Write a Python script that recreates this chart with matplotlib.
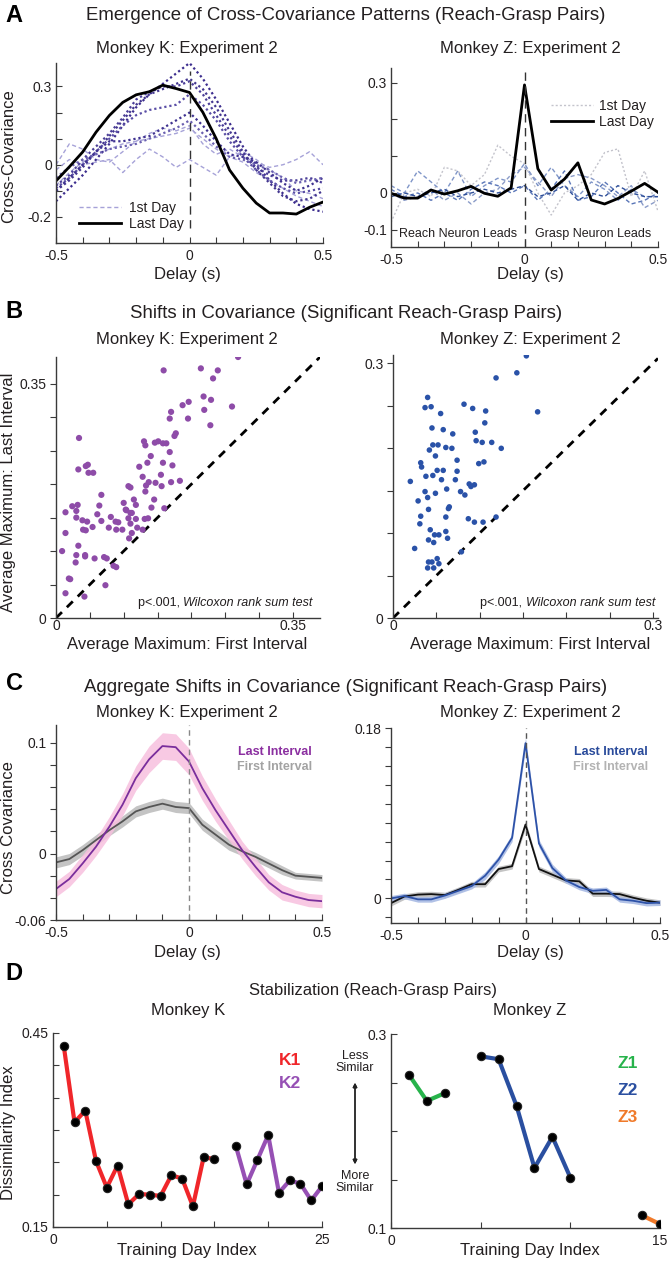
import numpy as np
import matplotlib.pyplot as plt

plt.rcParams['font.family'] = ['Liberation Sans', 'DejaVu Sans']
plt.rcParams['text.color'] = '#231f20'

# ---- data ----
delay = [-0.5, -0.45, -0.4, -0.35, -0.3, -0.25, -0.2, -0.15, -0.1, -0.05, 0.0,
         0.05, 0.1, 0.15, 0.2, 0.25, 0.3, 0.35, 0.4, 0.45, 0.5]

# A, monkey K: last day (black) and intermediate days (dotted)
k_last_day = [-0.062, -0.008, 0.049, 0.125, 0.189, 0.239, 0.268, 0.280, 0.305, 0.292, 0.277,
              0.201, 0.100, -0.020, -0.090, -0.147, -0.185, -0.185, -0.189, -0.163, -0.143]
k_days = [
    [-0.14, -0.09, -0.04, 0.02, 0.08, 0.15, 0.22, 0.27, 0.31, 0.35, 0.39, 0.33, 0.25, 0.16, 0.07, 0.0, -0.06, -0.11, -0.15, -0.17, -0.18],
    [-0.10, -0.06, -0.01, 0.05, 0.11, 0.17, 0.23, 0.27, 0.29, 0.31, 0.33, 0.29, 0.22, 0.13, 0.05, -0.02, -0.07, -0.12, -0.14, -0.13, -0.10],
    [-0.08, -0.04, 0.02, 0.07, 0.12, 0.18, 0.25, 0.28, 0.30, 0.30, 0.32, 0.27, 0.19, 0.11, 0.04, -0.01, -0.04, -0.06, -0.06, -0.05, -0.07],
    [-0.09, -0.05, 0.0, 0.05, 0.10, 0.15, 0.19, 0.21, 0.22, 0.23, 0.27, 0.23, 0.17, 0.09, 0.03, -0.02, -0.06, -0.09, -0.11, -0.10, -0.09],
    [-0.10, -0.05, 0.0, 0.05, 0.09, 0.09, 0.10, 0.11, 0.14, 0.17, 0.20, 0.15, 0.09, 0.04, 0.03, 0.01, -0.03, -0.07, -0.10, -0.08, -0.05],
    [-0.05, -0.01, 0.02, 0.04, 0.06, 0.07, 0.08, 0.10, 0.12, 0.14, 0.17, 0.12, 0.07, 0.03, 0.02, 0.0, -0.02, -0.05, -0.07, -0.06, -0.05],
]
k_first_days = [
    [0.0, 0.08, 0.06, 0.02, 0.01, 0.05, 0.09, 0.12, 0.14, 0.13, 0.15, 0.08, 0.04, 0.06, 0.03, 0.01, -0.01, 0.0, 0.02, 0.05, 0.0],
    [-0.02, 0.02, 0.0, 0.01, 0.02, -0.03, 0.02, 0.06, 0.03, -0.01, 0.02, -0.01, -0.04, 0.03, 0.05, 0.02, -0.02, -0.05, -0.10, -0.11, -0.13],
    [-0.08, -0.03, 0.01, 0.04, 0.06, 0.08, 0.09, 0.10, 0.11, 0.12, 0.14, 0.10, 0.06, 0.03, 0.01, -0.03, -0.06, -0.09, -0.12, -0.14, -0.16],
]

# A, monkey Z
z_last_day = [-0.001, -0.014, -0.014, 0.008, -0.003, 0.006, 0.018, -0.001, -0.009, 0.014, 0.294,
              0.066, 0.008, 0.038, 0.082, -0.019, -0.030, -0.015, 0.005, 0.026, 0.002]
z_first_day = [-0.08, 0.0, 0.01, -0.01, 0.07, 0.06, 0.02, 0.05, 0.13, 0.10, 0.08,
               0.0, -0.06, 0.0, 0.02, 0.05, 0.11, 0.12, -0.01, 0.06, -0.05]
z_days = [
    [0.02, 0.0, 0.06, 0.03, 0.0, 0.06, -0.01, 0.02, 0.04, 0.03, 0.08, 0.02, 0.07, 0.02, -0.01, 0.03, 0.01, -0.02, 0.01, -0.01, -0.01],
    [0.01, -0.01, 0.0, -0.02, 0.0, -0.02, 0.01, 0.03, 0.02, 0.0, 0.02, -0.02, 0.01, 0.06, -0.02, -0.01, 0.03, 0.0, -0.03, -0.02, 0.0],
    [0.0, -0.02, -0.01, 0.01, -0.02, 0.0, -0.03, 0.0, 0.01, 0.05, 0.07, 0.03, -0.01, 0.04, 0.05, 0.04, 0.02, -0.01, 0.02, -0.04, -0.02],
    [-0.01, 0.0, -0.01, 0.0, 0.01, -0.01, 0.0, 0.01, 0.0, 0.01, 0.02, -0.01, 0.0, 0.02, -0.02, 0.0, -0.01, 0.02, 0.0, -0.01, -0.01],
]

# B, average maximum first vs last interval
k_first_max = [0.269, 0.159, 0.214, 0.239, 0.232, 0.196, 0.187, 0.218, 0.229, 0.260, 0.219, 0.170, 0.168, 0.195,
               0.228, 0.177, 0.175, 0.034, 0.130, 0.132, 0.146, 0.151, 0.158, 0.163, 0.168, 0.140, 0.158, 0.135,
               0.123, 0.172, 0.047, 0.044, 0.033, 0.048, 0.055, 0.155, 0.128, 0.137, 0.133, 0.147, 0.183, 0.170,
               0.156, 0.107, 0.110, 0.132, 0.067, 0.145, 0.115, 0.118, 0.100, 0.024, 0.064, 0.032, 0.160, 0.141,
               0.103, 0.112, 0.014, 0.030, 0.061, 0.081, 0.107, 0.118, 0.131, 0.136, 0.030, 0.039, 0.046, 0.067,
               0.088, 0.092, 0.110, 0.054, 0.078, 0.120, 0.128, 0.040, 0.044, 0.089, 0.098, 0.112, 0.014, 0.108,
               0.033, 0.009, 0.030, 0.043, 0.043, 0.057, 0.071, 0.075, 0.029, 0.085, 0.089, 0.019, 0.021, 0.073,
               0.014, 0.042, 0.110, 0.104]
k_last_max = [0.390, 0.370, 0.373, 0.370, 0.358, 0.323, 0.318, 0.331, 0.326, 0.316, 0.311, 0.308, 0.298, 0.298,
              0.288, 0.276, 0.272, 0.269, 0.264, 0.258, 0.262, 0.264, 0.261, 0.261, 0.248, 0.242, 0.232, 0.232,
              0.226, 0.228, 0.229, 0.227, 0.222, 0.217, 0.217, 0.214, 0.211, 0.203, 0.198, 0.202, 0.205, 0.203,
              0.197, 0.197, 0.195, 0.189, 0.184, 0.177, 0.177, 0.169, 0.172, 0.167, 0.168, 0.169, 0.164, 0.165,
              0.162, 0.157, 0.158, 0.160, 0.155, 0.151, 0.149, 0.148, 0.148, 0.149, 0.150, 0.146, 0.144, 0.145,
              0.144, 0.143, 0.141, 0.136, 0.135, 0.135, 0.132, 0.132, 0.131, 0.132, 0.132, 0.127, 0.127, 0.119,
              0.108, 0.100, 0.094, 0.092, 0.094, 0.089, 0.091, 0.089, 0.083, 0.078, 0.076, 0.059, 0.058, 0.049,
              0.037, 0.032, 0.157, 0.161]
z_first_max = [0.154, 0.143, 0.119, 0.167, 0.040, 0.037, 0.044, 0.082, 0.092, 0.107, 0.055, 0.106, 0.045, 0.058,
               0.095, 0.069, 0.096, 0.103, 0.114, 0.125, 0.046, 0.052, 0.042, 0.061, 0.068, 0.049, 0.032, 0.033,
               0.099, 0.105, 0.074, 0.051, 0.058, 0.074, 0.038, 0.046, 0.020, 0.056, 0.072, 0.088, 0.094, 0.090,
               0.037, 0.049, 0.062, 0.078, 0.083, 0.040, 0.029, 0.065, 0.064, 0.041, 0.032, 0.061, 0.087, 0.094,
               0.104, 0.119, 0.031, 0.043, 0.061, 0.048, 0.053, 0.063, 0.041, 0.047, 0.025, 0.079, 0.051, 0.041,
               0.045, 0.040, 0.047, 0.053]
z_last_max = [0.309, 0.289, 0.283, 0.243, 0.260, 0.248, 0.249, 0.252, 0.247, 0.244, 0.241, 0.230, 0.224, 0.222,
              0.219, 0.217, 0.209, 0.207, 0.207, 0.200, 0.204, 0.204, 0.198, 0.201, 0.200, 0.191, 0.183, 0.178,
              0.182, 0.184, 0.186, 0.174, 0.174, 0.173, 0.167, 0.168, 0.161, 0.163, 0.163, 0.158, 0.157, 0.155,
              0.149, 0.147, 0.152, 0.149, 0.145, 0.142, 0.138, 0.131, 0.129, 0.128, 0.120, 0.119, 0.117, 0.113,
              0.113, 0.119, 0.111, 0.104, 0.102, 0.098, 0.098, 0.094, 0.092, 0.089, 0.082, 0.078, 0.070, 0.066,
              0.066, 0.059, 0.059, 0.064]

# C, aggregate cross covariance (mean and s.e.m.)
k_agg_last = [-0.032, -0.023, -0.009, 0.006, 0.024, 0.044, 0.068, 0.085, 0.097, 0.096, 0.083,
              0.059, 0.039, 0.021, 0.003, -0.012, -0.026, -0.035, -0.039, -0.042, -0.043]
k_agg_last_sem = [0.007, 0.007, 0.008, 0.008, 0.009, 0.010, 0.011, 0.012, 0.012, 0.012, 0.012,
                  0.011, 0.010, 0.009, 0.008, 0.008, 0.007, 0.007, 0.006, 0.006, 0.006]
k_agg_first = [-0.008, -0.005, 0.003, 0.012, 0.021, 0.029, 0.038, 0.042, 0.045, 0.042, 0.041,
               0.026, 0.017, 0.008, 0.002, -0.003, -0.009, -0.015, -0.020, -0.021, -0.022]
k_agg_first_sem = [0.005, 0.005, 0.005, 0.005, 0.005, 0.005, 0.005, 0.005, 0.005, 0.005, 0.005,
                   0.005, 0.005, 0.005, 0.004, 0.004, 0.004, 0.004, 0.003, 0.003, 0.003]
z_agg_last = [0.0, 0.0025, -0.001, -0.001, 0.003, 0.008, 0.013, 0.024, 0.041, 0.064, 0.164,
              0.058, 0.032, 0.019, 0.012, 0.008, 0.009, -0.001, -0.0025, -0.005, -0.0045]
z_agg_last_sem = [0.003, 0.003, 0.003, 0.003, 0.003, 0.003, 0.003, 0.004, 0.004, 0.004, 0.006,
                  0.004, 0.004, 0.003, 0.003, 0.003, 0.003, 0.003, 0.003, 0.003, 0.003]
z_agg_first = [-0.005, 0.002, 0.004, 0.0045, 0.0035, 0.009, 0.015, 0.015, 0.031, 0.034, 0.078,
               0.031, 0.025, 0.019, 0.018, 0.005, 0.005, 0.0045, 0.0007, -0.0025, -0.0045]
z_agg_first_sem = [0.003, 0.003, 0.003, 0.003, 0.003, 0.003, 0.003, 0.003, 0.003, 0.003, 0.004,
                   0.003, 0.003, 0.003, 0.003, 0.003, 0.003, 0.003, 0.003, 0.003, 0.003]

# D, dissimilarity index per training day
k1_day = [1, 2, 3, 4, 5, 6, 7, 8, 9, 10, 11, 12, 13, 14, 15]
k1_val = [0.430, 0.312, 0.330, 0.252, 0.211, 0.245, 0.185, 0.201, 0.200, 0.198, 0.230, 0.225, 0.182, 0.258, 0.255]
k2_day = [17, 18, 19, 20, 21, 22, 23, 24, 25]
k2_val = [0.275, 0.216, 0.254, 0.292, 0.203, 0.222, 0.217, 0.191, 0.213]
z1_day = [1, 2, 3]
z1_val = [0.258, 0.231, 0.239]
z2_day = [5, 6, 7, 8, 9, 10]
z2_val = [0.277, 0.274, 0.226, 0.162, 0.194, 0.152]
z3_day = [14, 15]
z3_val = [0.113, 0.104]

# ---- layout helpers (pixel boxes of the 671x1263 canvas) ----
W, H = 671, 1263
fig = plt.figure(figsize=(W / 100, H / 100), dpi=100)
TXT = '#231f20'
TICK_FS = 10
LAB_FS = 12
SUB_FS = 12
TITLE_FS = 13.4


def box(x0, y0, x1, y1):
    return [x0 / W, 1 - y1 / H, (x1 - x0) / W, (y1 - y0) / H]


def ftext(x, y, s, **kw):
    kw.setdefault('ha', 'center')
    kw.setdefault('va', 'center')
    kw.setdefault('color', TXT)
    return fig.text(x / W, 1 - y / H, s, **kw)


def style(ax, xdir='in', ydir='in'):
    for s in ['top', 'right']:
        ax.spines[s].set_visible(False)
    for s in ['left', 'bottom']:
        ax.spines[s].set_color('#3a3a3a')
        ax.spines[s].set_linewidth(1.0)
    ax.tick_params(axis='x', direction=xdir, length=4, width=0.8, labelsize=TICK_FS,
                   pad=4, colors='#3a3a3a', labelcolor=TXT)
    ax.tick_params(axis='y', direction=ydir, length=4, width=0.8, labelsize=TICK_FS,
                   pad=3, colors='#3a3a3a', labelcolor=TXT)
    ax.patch.set_alpha(0)


delay_ticks = [-0.5, -0.4, -0.3, -0.2, -0.1, 0, 0.1, 0.2, 0.3, 0.4, 0.5]
delay_labels = ['-0.5', '', '', '', '', '0', '', '', '', '', '0.5']

# ---- panel letters and titles ----
for letter, y in [('A', 15), ('B', 312), ('C', 683), ('D', 973)]:
    ftext(14, y, letter, fontsize=17, fontweight='bold', color='black')
ftext(346, 16, 'Emergence of Cross-Covariance Patterns (Reach-Grasp Pairs)', fontsize=TITLE_FS)
ftext(346, 313, 'Shifts in Covariance (Significant Reach-Grasp Pairs)', fontsize=TITLE_FS)
ftext(346, 688, 'Aggregate Shifts in Covariance (Significant Reach-Grasp Pairs)', fontsize=TITLE_FS)
ftext(373, 990, 'Stabilization (Reach-Grasp Pairs)', fontsize=12)
for y in [48, 340, 712]:
    ftext(187, y, 'Monkey K: Experiment 2', fontsize=SUB_FS)
    ftext(530, y, 'Monkey Z: Experiment 2', fontsize=SUB_FS)
ftext(188, 1010, 'Monkey K', fontsize=SUB_FS)
ftext(530, 1010, 'Monkey Z', fontsize=SUB_FS)

# ---- A left ----
ax = fig.add_axes(box(56, 63, 323, 243))
style(ax)
for vals in k_first_days:
    ax.plot(delay, vals, color='#a6a2d8', lw=1.0, ls=(0, (3, 2)))
dot_cols = ['#3c2d8e', '#43368f', '#4b3e98', '#5a4ea6', '#3f3290', '#6a60b0']
for vals, c in zip(k_days, dot_cols):
    ax.plot(delay, vals, color=c, lw=1.6, ls=(0, (1, 1.3)))
ax.plot(delay, k_last_day, color='black', lw=2.0)
ax.axvline(0, ymin=0.084, ymax=0.957, color='#333', lw=1.0, ls=(0, (6, 4)))
ax.plot([], [], color='#a6a2d8', lw=1.0, ls=(0, (3, 2)), label='1st Day')
ax.plot([], [], color='black', lw=2.0, label='Last Day')
h, l = ax.get_legend_handles_labels()
ax.legend(h[-2:], l[-2:], loc='lower left', bbox_to_anchor=(0.06, 0.03), frameon=False,
          fontsize=10, handlelength=3.0, handletextpad=0.6, labelspacing=0.15, borderpad=0)
ax.set_xlim(-0.5, 0.5)
ax.set_ylim(-0.3, 0.39)
ax.set_xticks(delay_ticks)
ax.set_xticklabels(delay_labels)
ax.set_yticks([-0.2, -0.1, 0, 0.1, 0.2, 0.3])
ax.set_yticklabels(['-0.2', '', '0', '', '', '0.3'])
ftext(187, 275, 'Delay (s)', fontsize=LAB_FS)
ftext(9, 156, 'Cross-Covariance', fontsize=LAB_FS, rotation=90)

# ---- A right ----
ax = fig.add_axes(box(391, 68, 658, 247))
style(ax)
ax.plot(delay, z_first_day, color='#c4c4cc', lw=1.0, ls=(0, (1.5, 1.5)))
for vals, c in zip(z_days, ['#7f95c8', '#5a76b8', '#8a9bc8', '#2f4f99']):
    ax.plot(delay, vals, color=c, lw=1.0, ls=(0, (3, 2)))
ax.plot(delay, z_last_day, color='black', lw=2.0)
ax.axvline(0, color='#333', lw=1.0, ls=(0, (6, 4)))
ax.plot([], [], color='#c4c4cc', lw=1.0, ls=(0, (1.5, 1.5)), label='1st Day')
ax.plot([], [], color='black', lw=2.0, label='Last Day')
h, l = ax.get_legend_handles_labels()
ax.legend(h[-2:], l[-2:], loc='upper left', bbox_to_anchor=(0.575, 0.865), frameon=False,
          fontsize=10, handlelength=3.0, handletextpad=0.45, labelspacing=0.15, borderpad=0)
ax.text(0.03, 0.04, 'Reach Neuron Leads', transform=ax.transAxes, fontsize=9, color=TXT,
        ha='left', va='bottom')
ax.text(0.54, 0.04, 'Grasp Neuron Leads', transform=ax.transAxes, fontsize=9, color=TXT,
        ha='left', va='bottom')
ax.set_xlim(-0.5, 0.5)
ax.set_ylim(-0.147, 0.34)
ax.set_xticks(delay_ticks)
ax.set_xticklabels(delay_labels)
ax.set_yticks([-0.1, 0, 0.1, 0.2, 0.3])
ax.set_yticklabels(['-0.1', '0', '', '', '0.3'])
ftext(530, 275, 'Delay (s)', fontsize=LAB_FS)


def pvalue(ax, x):
    t = ax.text(x, 0.057, 'Wilcoxon rank sum test', transform=ax.transAxes, fontsize=9,
                style='italic', ha='right', va='center', color=TXT)
    ax.annotate('p<.001, ', xy=(0, 0.5), xycoords=t, fontsize=9, ha='right', va='center',
                color=TXT)


# ---- B left ----
ax = fig.add_axes(box(56, 357, 320, 618))
style(ax, 'in', 'out')
ax.scatter(k_first_max, k_last_max, s=20, color='#8e4ca8', edgecolors='none', zorder=3)
ax.axline((0, 0), slope=1, color='black', lw=2.0, ls=(0, (3, 2.5)))
ax.set_xlim(0, 0.39)
ax.set_ylim(0, 0.39)
ax.set_xticks([0, 0.05, 0.1, 0.15, 0.2, 0.25, 0.3, 0.35])
ax.set_xticklabels(['0', '', '', '', '', '', '', '0.35'])
ax.set_yticks([0, 0.05, 0.1, 0.15, 0.2, 0.25, 0.3, 0.35])
ax.set_yticklabels(['0', '', '', '', '', '', '', '0.35'])
ax.tick_params(axis='x', pad=1)
pvalue(ax, 0.973)
ftext(187, 645, 'Average Maximum: First Interval', fontsize=LAB_FS)
ftext(9, 492, 'Average Maximum: Last Interval', fontsize=LAB_FS, rotation=90)

# ---- B right ----
ax = fig.add_axes(box(393, 355, 658, 618))
style(ax, 'in', 'out')
ax.scatter(z_first_max, z_last_max, s=16, color='#2a52a8', edgecolors='none', zorder=3)
ax.axline((0, 0), slope=1, color='black', lw=2.0, ls=(0, (3, 2.5)))
ax.set_xlim(0, 0.306)
ax.set_ylim(0, 0.31)
ax.set_xticks([0, 0.05, 0.1, 0.15, 0.2, 0.25, 0.3])
ax.set_xticklabels(['0', '', '', '', '', '', '0.3'])
ax.set_yticks([0, 0.05, 0.1, 0.15, 0.2, 0.25, 0.3])
ax.set_yticklabels(['0', '', '', '', '', '', '0.3'])
ax.tick_params(axis='x', pad=1)
pvalue(ax, 0.989)
ftext(530, 645, 'Average Maximum: First Interval', fontsize=LAB_FS)

# ---- C left ----
ax = fig.add_axes(box(56, 725, 322, 920))
style(ax, 'in', 'out')
lo = np.array(k_agg_first) - np.array(k_agg_first_sem)
hi = np.array(k_agg_first) + np.array(k_agg_first_sem)
ax.fill_between(delay, lo, hi, color='#c4c4c4', lw=0)
ax.plot(delay, k_agg_first, color='#555555', lw=1.3)
lo = np.array(k_agg_last) - np.array(k_agg_last_sem)
hi = np.array(k_agg_last) + np.array(k_agg_last_sem)
ax.fill_between(delay, lo, hi, color='#f7c0de', alpha=0.85, lw=0)
ax.plot(delay, k_agg_last, color='#7a2e9c', lw=1.3)
ax.axvline(0, color='#888', lw=1.0, ls=(0, (4, 3)))
ax.text(0.962, 0.86, 'Last Interval', transform=ax.transAxes, fontsize=9,
        fontweight='bold', color='#8b2fa0', ha='right', va='center')
ax.text(0.962, 0.785, 'First Interval', transform=ax.transAxes, fontsize=9,
        fontweight='bold', color='#a3a3a3', ha='right', va='center')
ax.set_xlim(-0.5, 0.5)
ax.set_ylim(-0.06, 0.116)
ax.set_xticks(delay_ticks)
ax.set_xticklabels(delay_labels)
ax.set_yticks([-0.06, -0.04, -0.02, 0, 0.02, 0.04, 0.06, 0.08, 0.1])
ax.set_yticklabels(['-0.06', '', '', '0', '', '', '', '', '0.1'])
ftext(187, 952, 'Delay (s)', fontsize=LAB_FS)
ftext(9, 828, 'Cross Covariance', fontsize=LAB_FS, rotation=90)

# ---- C right ----
ax = fig.add_axes(box(391, 728, 660, 923))
style(ax, 'in', 'out')
lo = np.array(z_agg_first) - np.array(z_agg_first_sem)
hi = np.array(z_agg_first) + np.array(z_agg_first_sem)
ax.fill_between(delay, lo, hi, color='#c4c4c4', lw=0)
ax.plot(delay, z_agg_first, color='#111111', lw=1.3)
lo = np.array(z_agg_last) - np.array(z_agg_last_sem)
hi = np.array(z_agg_last) + np.array(z_agg_last_sem)
ax.fill_between(delay, lo, hi, color='#a9bbe4', alpha=0.9, lw=0)
ax.plot(delay, z_agg_last, color='#2d52a8', lw=1.3)
ax.axvline(0, color='#555', lw=1.0, ls=(0, (4, 3)))
ax.text(0.955, 0.877, 'Last Interval', transform=ax.transAxes, fontsize=9,
        fontweight='bold', color='#2a4b9b', ha='right', va='center')
ax.text(0.955, 0.80, 'First Interval', transform=ax.transAxes, fontsize=9,
        fontweight='bold', color='#b3b3b3', ha='right', va='center')
ax.set_xlim(-0.5, 0.5)
ax.set_ylim(-0.026, 0.18)
ax.set_xticks(delay_ticks)
ax.set_xticklabels(delay_labels)
ax.set_yticks([-0.02, 0, 0.02, 0.04, 0.06, 0.08, 0.1, 0.12, 0.14, 0.16, 0.18])
ax.set_yticklabels(['', '0', '', '', '', '', '', '', '', '', '0.18'])
ftext(530, 952, 'Delay (s)', fontsize=LAB_FS)


def day_line(ax, d, v, c):
    ax.plot(d, v, color=c, lw=3.0, zorder=2)
    ax.plot(d, v, ls='none', marker='o', ms=6, color='black', mec='#222', mew=0.8, zorder=3)


# ---- D left ----
ax = fig.add_axes(box(53, 1033, 322, 1227))
style(ax)
day_line(ax, k1_day, k1_val, '#f0262a')
day_line(ax, k2_day, k2_val, '#9650b4')
ax.text(0.88, 0.86, 'K1', transform=ax.transAxes, fontsize=12.5, fontweight='bold',
        color='#f0262a', ha='center', va='center')
ax.text(0.88, 0.74, 'K2', transform=ax.transAxes, fontsize=12.5, fontweight='bold',
        color='#9650b4', ha='center', va='center')
ax.set_xlim(0, 25)
ax.set_ylim(0.15, 0.45)
ax.set_xticks([0, 5, 10, 15, 20, 25])
ax.set_xticklabels(['0', '', '', '', '', '25'])
ax.set_yticks([0.15, 0.2, 0.25, 0.3, 0.35, 0.4, 0.45])
ax.set_yticklabels(['0.15', '', '', '', '', '', '0.45'])
ftext(187, 1251, 'Training Day Index', fontsize=LAB_FS)
ftext(9, 1133, 'Dissimilarity Index', fontsize=LAB_FS, rotation=90)

# ---- D right ----
ax = fig.add_axes(box(391, 1034, 660, 1228))
style(ax)
day_line(ax, z1_day, z1_val, '#27b34b')
day_line(ax, z2_day, z2_val, '#2a4fa0')
day_line(ax, z3_day, z3_val, '#f07a2a')
for lab, yy, c in [('Z1', 0.85, '#27b34b'), ('Z2', 0.71, '#2a4fa0'), ('Z3', 0.57, '#f07a2a')]:
    ax.text(0.88, yy, lab, transform=ax.transAxes, fontsize=12.5, fontweight='bold',
            color=c, ha='center', va='center')
ax.set_xlim(0, 15)
ax.set_ylim(0.1, 0.3)
ax.set_xticks([0, 5, 10, 15])
ax.set_xticklabels(['0', '', '', '15'])
ax.set_yticks([0.1, 0.15, 0.2, 0.25, 0.3])
ax.set_yticklabels(['0.1', '', '', '', '0.3'])
ftext(530, 1251, 'Training Day Index', fontsize=LAB_FS)

ftext(355, 1062, 'Less\nSimilar', fontsize=9, linespacing=1.1)
ftext(355, 1182, 'More\nSimilar', fontsize=9, linespacing=1.1)
fig.add_artist(plt.annotate('', xy=(355 / W, 1 - 1080 / H), xytext=(355 / W, 1 - 1167 / H),
                            xycoords='figure fraction', textcoords='figure fraction',
                            arrowprops=dict(arrowstyle='<|-|>', color='#222', lw=1.0,
                                            mutation_scale=6)))

fig.savefig('out.png', dpi=100)
